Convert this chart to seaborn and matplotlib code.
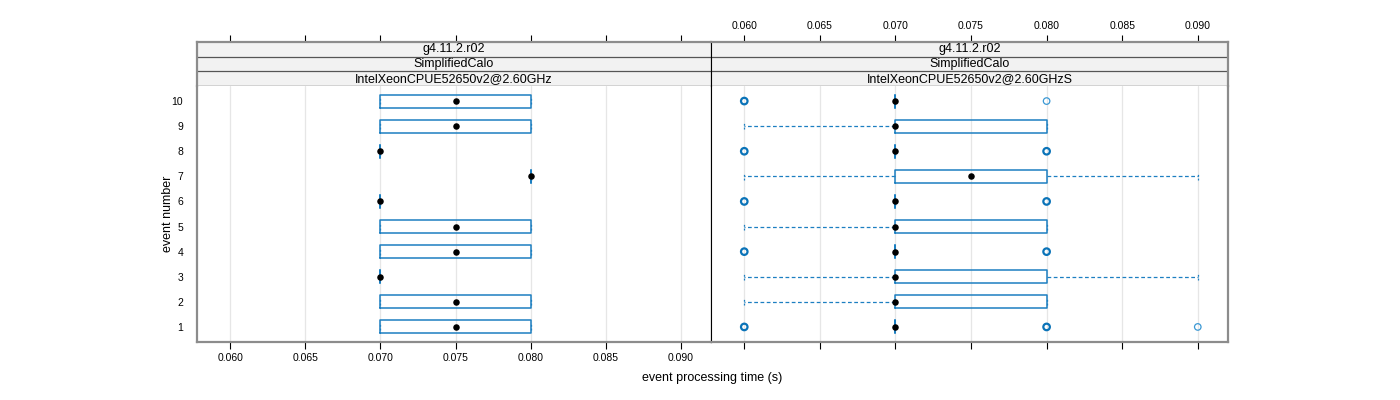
import numpy as np
import pandas as pd
import seaborn as sns
import matplotlib
matplotlib.use("Agg")
import matplotlib.pyplot as plt

# ---------------- data ----------------
events = [1, 2, 3, 4, 5, 6, 7, 8, 9, 10]

strip_top = ["g4.11.2.r02", "g4.11.2.r02"]
strip_mid = ["SimplifiedCalo", "SimplifiedCalo"]
strip_bot = ["IntelXeonCPUE52650v2@2.60GHz", "IntelXeonCPUE52650v2@2.60GHzS"]

# left panel (per event 1..10)
left_wlo = [0.070, 0.070, 0.070, 0.070, 0.070, 0.070, 0.080, 0.070, 0.070, 0.070]
left_q1  = [0.070, 0.070, 0.070, 0.070, 0.070, 0.070, 0.080, 0.070, 0.070, 0.070]
left_med = [0.075, 0.075, 0.070, 0.075, 0.075, 0.070, 0.080, 0.070, 0.075, 0.075]
left_q3  = [0.080, 0.080, 0.070, 0.080, 0.080, 0.070, 0.080, 0.070, 0.080, 0.080]
left_whi = [0.080, 0.080, 0.070, 0.080, 0.080, 0.070, 0.080, 0.070, 0.080, 0.080]
left_out = [[], [], [], [], [], [], [], [], [], []]

# right panel (per event 1..10)
right_wlo = [0.070, 0.060, 0.060, 0.070, 0.060, 0.070, 0.060, 0.070, 0.060, 0.070]
right_q1  = [0.070, 0.070, 0.070, 0.070, 0.070, 0.070, 0.070, 0.070, 0.070, 0.070]
right_med = [0.070, 0.070, 0.070, 0.070, 0.070, 0.070, 0.075, 0.070, 0.070, 0.070]
right_q3  = [0.070, 0.080, 0.080, 0.070, 0.080, 0.070, 0.080, 0.070, 0.080, 0.070]
right_whi = [0.070, 0.080, 0.090, 0.070, 0.080, 0.070, 0.090, 0.070, 0.080, 0.070]
right_out = [[0.060, 0.060, 0.080, 0.080, 0.090],
             [],
             [],
             [0.060, 0.060, 0.080, 0.080],
             [],
             [0.060, 0.060, 0.080, 0.080],
             [],
             [0.060, 0.060, 0.080, 0.080],
             [],
             [0.060, 0.060, 0.080]]

x_ticks = [0.060, 0.065, 0.070, 0.075, 0.080, 0.085, 0.090]
x_ticklabels = ["0.060", "0.065", "0.070", "0.075", "0.080", "0.085", "0.090"]
xlabel = "event processing time (s)"
ylabel = "event number"

# ---------------- style ----------------
sns.set_theme(style="white")
plt.rcParams["font.family"] = ["Liberation Sans", "DejaVu Sans"]

BLUE = "#1c7fc1"
BORDER = "#8c8c8c"
GRID = "#e6e6e6"
STRIP_BG = "#f2f2f2"

W, H = 1400, 400
fig = plt.figure(figsize=(14, 4), dpi=100)
fig.patch.set_facecolor("white")

def fx(px):
    return px / W

def fy(py):
    return 1 - py / H

panel_x = [(197, 711), (711, 1228)]
p_top, p_bot = 86, 342
s_top = 42
xlim = (0.0578, 0.0920)
ylim = (0.4, 10.6)

panels = [
    dict(wlo=left_wlo, q1=left_q1, med=left_med, q3=left_q3, whi=left_whi, out=left_out),
    dict(wlo=right_wlo, q1=right_q1, med=right_med, q3=right_q3, whi=right_whi, out=right_out),
]

def style_spines(a, i, bottom=True, top=False):
    for side in ["top", "bottom", "left", "right"]:
        a.spines[side].set_visible(True)
    a.spines["bottom"].set_visible(bottom)
    a.spines["top"].set_visible(top)
    a.spines["bottom"].set_color(BORDER)
    a.spines["bottom"].set_linewidth(1.6)
    a.spines["top"].set_color(BORDER)
    a.spines["top"].set_linewidth(1.6)
    outer, inner = ("left", "right") if i == 0 else ("right", "left")
    a.spines[outer].set_color(BORDER)
    a.spines[outer].set_linewidth(1.6)
    a.spines[inner].set_color("black")
    a.spines[inner].set_linewidth(0.8)

for i, (x0, x1) in enumerate(panel_x):
    ax = fig.add_axes([fx(x0), fy(p_bot), fx(x1 - x0), fy(p_top) - fy(p_bot)])
    ax.set_facecolor("white")
    ax.set_xlim(*xlim)
    ax.set_ylim(*ylim)
    for xt in x_ticks:
        ax.axvline(xt, color=GRID, lw=0.9, zorder=0)

    d = panels[i]
    stats = []
    for k, ev in enumerate(events):
        stats.append(dict(med=d["med"][k], q1=d["q1"][k], q3=d["q3"][k],
                          whislo=d["wlo"][k], whishi=d["whi"][k], fliers=[]))
    ax.bxp(stats, positions=events, orientation="horizontal", widths=0.52,
           capwidths=0.26, showfliers=False, patch_artist=False,
           boxprops=dict(color=BLUE, lw=1.1),
           whiskerprops=dict(color=BLUE, lw=0.9, ls=(0, (3, 2))),
           capprops=dict(color=BLUE, lw=0.9, ls=(0, (1.5, 1.5))),
           medianprops=dict(lw=0), manage_ticks=False)

    dfm = pd.DataFrame({"time": d["med"], "event": events})
    sns.scatterplot(data=dfm, x="time", y="event", ax=ax, color="black",
                    s=22, edgecolor="black", linewidth=0, zorder=5, legend=False)

    rows = []
    for k, ev in enumerate(events):
        vals, cnts = np.unique(d["out"][k], return_counts=True)
        for v, c in zip(vals, cnts):
            rows.append((v, ev, c))
    if rows:
        dfo = pd.DataFrame(rows, columns=["time", "event", "count"])
        single = dfo[dfo["count"] == 1]
        multi = dfo[dfo["count"] > 1]
        if len(multi):
            sns.scatterplot(data=multi, x="time", y="event", ax=ax, s=22,
                            facecolor="none", edgecolor="#0a73b8", linewidth=1.6,
                            zorder=4, legend=False)
        if len(single):
            sns.scatterplot(data=single, x="time", y="event", ax=ax, s=22,
                            facecolor="none", edgecolor="#3a98d4", linewidth=0.9,
                            zorder=4, legend=False)

    ax.set_xlabel("")
    ax.set_ylabel("")
    ax.set_xticks(x_ticks)
    ax.set_yticks(events)
    ax.tick_params(axis="y", length=0, labelsize=7.5, pad=10, colors="black")
    if i == 0:
        ax.set_yticklabels([str(e) for e in events])
        ax.set_xticklabels(x_ticklabels)
        ax.tick_params(axis="x", length=5, width=0.8, labelsize=7.5, pad=3,
                       direction="out", colors="black", bottom=True)
    else:
        ax.set_yticklabels([])
        ax.set_xticklabels([])
        ax.tick_params(axis="x", length=5, width=0.8, direction="out",
                       colors="black", bottom=True, labelbottom=False)
        ax.tick_params(axis="y", left=False, labelleft=False)
    style_spines(ax, i, bottom=True, top=False)

    # strips
    sax = fig.add_axes([fx(x0), fy(p_top), fx(x1 - x0), fy(s_top) - fy(p_top)])
    sax.set_xlim(*xlim)
    sax.set_ylim(0, 3)
    sax.set_facecolor(STRIP_BG)
    for yy in [1, 2]:
        sax.axhline(yy, color="#555555", lw=0.9)
    sax.axhline(0, color="#555555", lw=1.0)
    labels = [strip_bot[i], strip_mid[i], strip_top[i]]
    for r, t in enumerate(labels):
        sax.text(0.5, (r + 0.5) / 3, t, transform=sax.transAxes,
                 ha="center", va="center", fontsize=9, color="black")
    sax.set_yticks([])
    sax.set_xticks(x_ticks)
    sax.xaxis.set_ticks_position("top")
    if i == 1:
        sax.set_xticklabels(x_ticklabels)
        sax.tick_params(axis="x", top=True, bottom=False, labeltop=True,
                        labelbottom=False, length=5, width=0.8, labelsize=7.5,
                        pad=3, direction="out", colors="black")
    else:
        sax.set_xticklabels([])
        sax.tick_params(axis="x", top=True, bottom=False, labeltop=False,
                        labelbottom=False, length=5, width=0.8,
                        direction="out", colors="black")
    style_spines(sax, i, bottom=False, top=True)

fig.text(fx(712), fy(378), xlabel, ha="center", va="center", fontsize=9, color="black")
fig.text(fx(168), fy(214), ylabel, ha="center", va="center", fontsize=9,
         rotation=90, color="black")

fig.savefig("out.png", dpi=100, facecolor="white")
